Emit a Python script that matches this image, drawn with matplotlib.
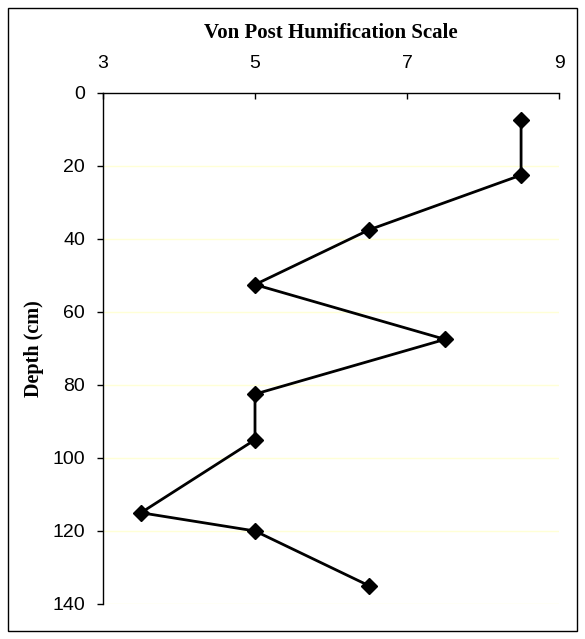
import matplotlib.pyplot as plt
from matplotlib.patches import Rectangle

humification = [8.5, 8.5, 6.5, 5, 7.5, 5, 5, 3.5, 5, 6.5]
depth = [7.5, 22.5, 37.5, 52.5, 67.5, 82.5, 95, 115, 120, 135]
x_ticks = [3, 5, 7, 9]
y_ticks = [0, 20, 40, 60, 80, 100, 120, 140]

fig = plt.figure(figsize=(5.85, 6.39), dpi=100)
ax = fig.add_axes([0.176, 0.0548, 0.7797, 0.7997])

# pale yellow horizontal grid
for yt in y_ticks[1:]:
    ax.axhline(yt, color='#ffffd6', lw=1, zorder=0)

ax.plot(humification, depth, color='black', lw=2, marker='D', markersize=8.5,
        markerfacecolor='black', markeredgecolor='black', zorder=3)

ax.set_xlim(3, 9)
ax.set_ylim(140, 0)
ax.set_xticks(x_ticks)
ax.set_yticks(y_ticks)
ax.xaxis.tick_top()
ax.xaxis.set_label_position('top')
ax.tick_params(axis='x', direction='in', length=4.3, width=1, labelsize=14, pad=15)
ax.tick_params(axis='y', direction='out', length=4.3, width=1, labelsize=14, pad=8.5)
for lab in ax.get_xticklabels() + ax.get_yticklabels():
    lab.set_fontfamily('Liberation Sans')

ax.spines['right'].set_visible(False)
ax.spines['bottom'].set_visible(False)
ax.spines['top'].set_linewidth(1)
ax.spines['left'].set_linewidth(1)

ax.set_xlabel('Von Post Humification Scale', fontfamily='Liberation Serif',
              fontweight='bold', fontsize=15, labelpad=12)
ax.set_ylabel('Depth (cm)', fontfamily='Liberation Serif',
              fontweight='bold', fontsize=14.5, labelpad=6)

# outer border
fig.patches.append(Rectangle((8 / 585, 8 / 639), 569 / 585, 623 / 639,
                             transform=fig.transFigure, fill=False,
                             edgecolor='black', lw=1))

fig.savefig('out.png', dpi=100)
